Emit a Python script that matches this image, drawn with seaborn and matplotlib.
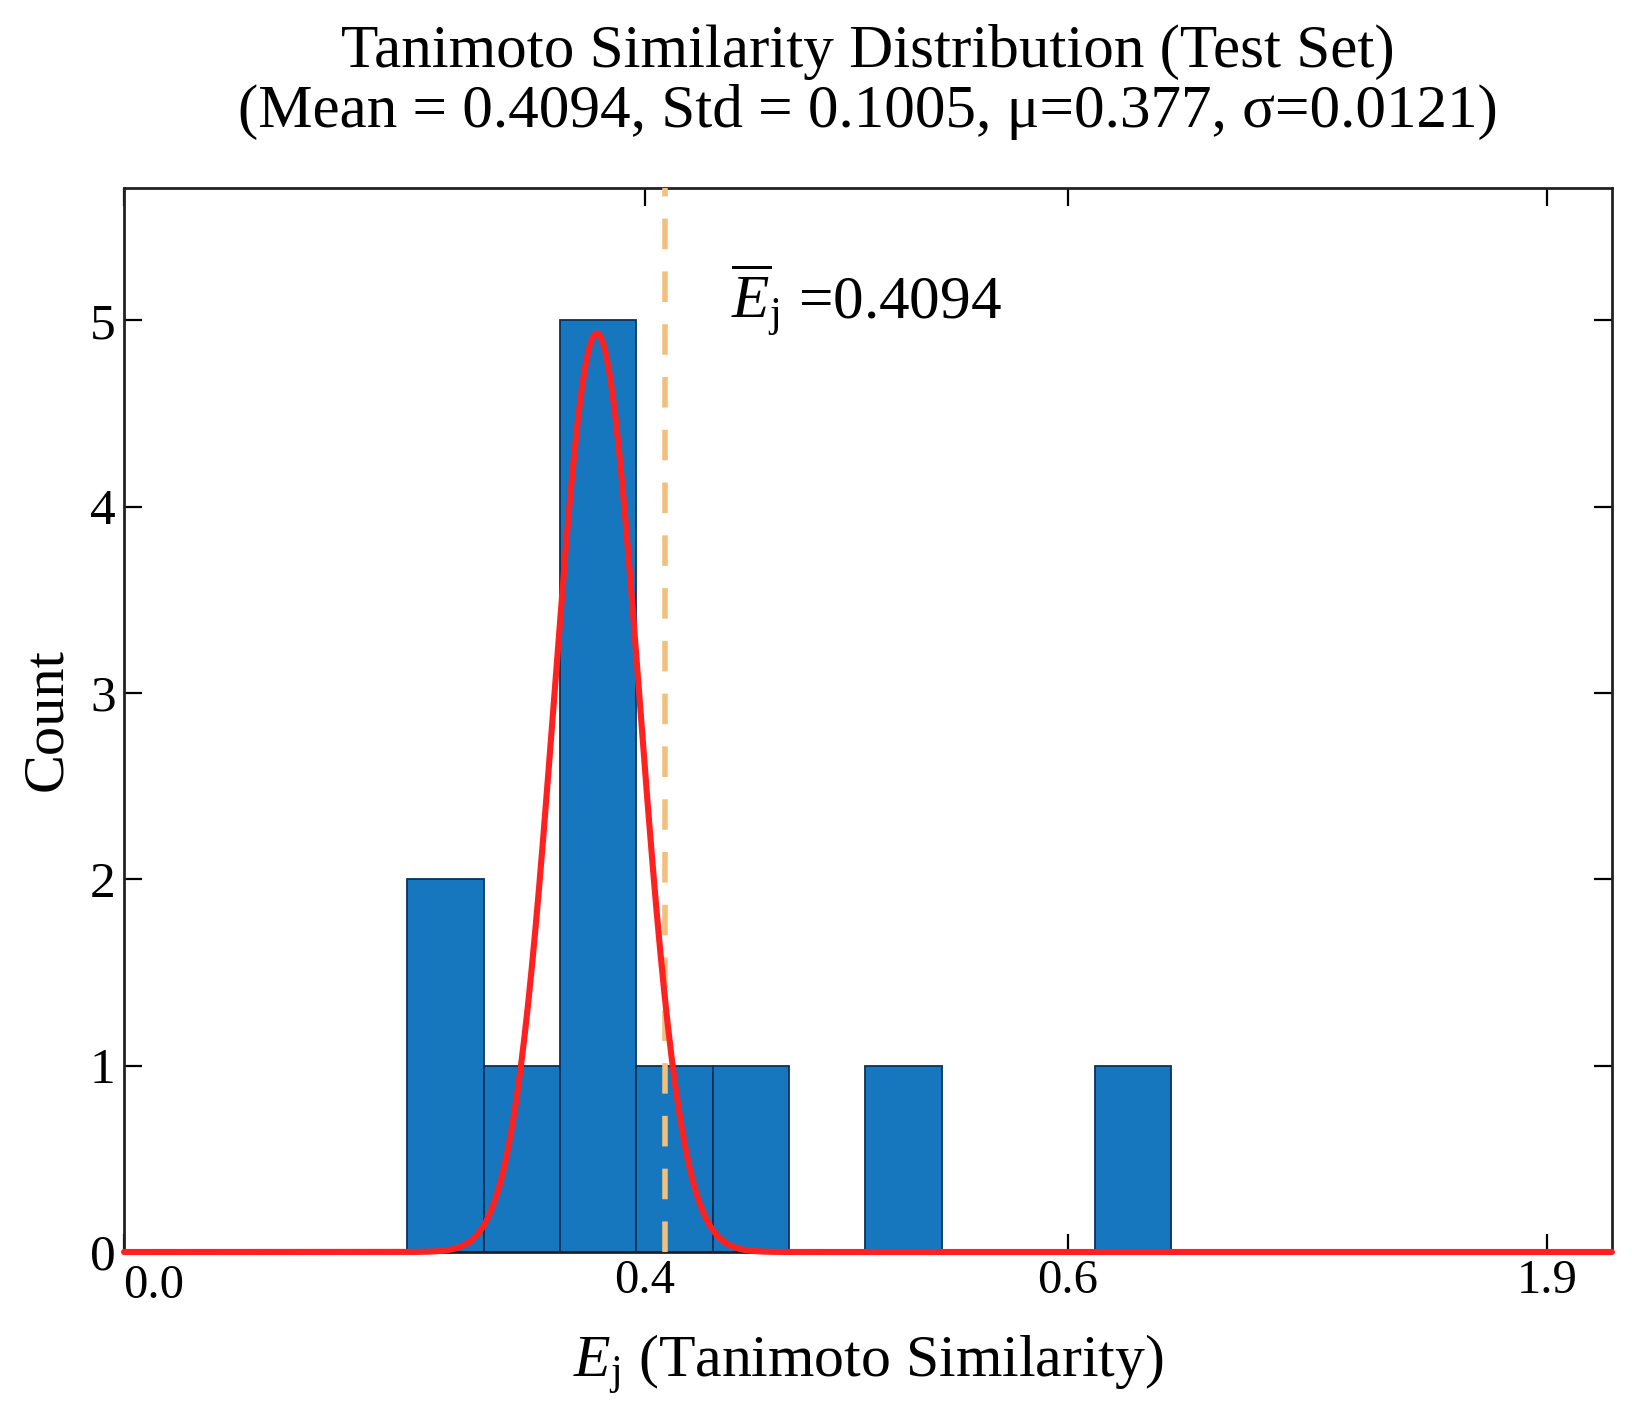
import numpy as np
import pandas as pd
import matplotlib
matplotlib.use("Agg")
import matplotlib.pyplot as plt
import matplotlib.transforms as mtransforms
import seaborn as sns

# -----------------------------
# DATA
# -----------------------------
bin_edges = [0.2173, 0.2760, 0.3346, 0.3933, 0.4519, 0.5106,
             0.5692, 0.6279, 0.6865, 0.7452, 0.8038]
bin_counts = [2, 1, 5, 1, 1, 0, 1, 0, 0, 1]

fit_mu = 0.363
fit_sigma = 0.0326
fit_peak = 4.93

mean_line_x = 0.4154
mean_label = 0.4094

x_tick_pos = [0.0, 0.4, 0.7248, 1.0925]
x_tick_labels = ["0.0", "0.4", "0.6", "1.9"]
y_ticks = [0, 1, 2, 3, 4, 5]

title_text = ("Tanimoto Similarity Distribution (Test Set)\n"
              "(Mean = 0.4094, Std = 0.1005, \u03bc=0.377, \u03c3=0.0121)")

# -----------------------------
# STYLE
# -----------------------------
sns.set_theme(style="ticks")
plt.rcParams["font.family"] = ["Liberation Serif", "DejaVu Serif"]
plt.rcParams["mathtext.fontset"] = "custom"
plt.rcParams["mathtext.rm"] = "Liberation Serif"
plt.rcParams["mathtext.it"] = "Liberation Serif:italic"
plt.rcParams["mathtext.bf"] = "Liberation Serif:bold"
plt.rcParams["text.color"] = "black"
plt.rcParams["axes.labelcolor"] = "black"
plt.rcParams["xtick.color"] = "black"
plt.rcParams["ytick.color"] = "black"

fig = plt.figure(figsize=(16.32, 14.25), dpi=100)
ax = fig.add_axes([0.076, 0.1214, 0.9117, 0.7467])

# histogram
centers = [(bin_edges[i] + bin_edges[i + 1]) / 2 for i in range(len(bin_counts))]
hist_df = pd.DataFrame({"x": centers, "w": bin_counts})
sns.histplot(data=hist_df, x="x", weights="w", bins=bin_edges,
             color="#1677bf", edgecolor="#0a3158", linewidth=1.3,
             alpha=1.0, ax=ax, zorder=2)

x_max = 1.1424
# mean line
ax.axvline(mean_line_x, color="#f3c07c", linewidth=4.0,
           linestyle=(0, (5.5, 4)), zorder=3)

# gaussian fit curve
xs = np.linspace(0, x_max, 800)
ys = fit_peak * np.exp(-0.5 * ((xs - fit_mu) / fit_sigma) ** 2)
sns.lineplot(x=xs, y=ys, color="#ff2020", linewidth=4.4, ax=ax,
             zorder=4, clip_on=False)

ax.text(0.466, 5.01, r"$\overline{E}_\mathrm{j}$ =0.4094", fontsize=44,
        ha="left", va="baseline", zorder=5)

ax.set_xlim(0, x_max)
ax.set_ylim(0, 5.71)
ax.set_xticks(x_tick_pos)
ax.set_xticklabels(x_tick_labels)
ax.set_yticks(y_ticks)

ax.tick_params(axis="both", which="major", direction="in", length=13,
               width=1.6, top=True, right=True)
ax.tick_params(axis="x", labelsize=35, pad=5)
ax.tick_params(axis="y", labelsize=37, pad=6)

# nudge the "0.0" label off the "0" label like in the reference
first = ax.get_xticklabels()[0]
first.set_transform(first.get_transform() +
                    mtransforms.ScaledTranslation(0.3, -0.05, fig.dpi_scale_trans))

for side in ["left", "right", "top", "bottom"]:
    ax.spines[side].set_visible(True)
    ax.spines[side].set_linewidth(2.0)
    ax.spines[side].set_color("#222222")

ax.set_xlabel(r"$E_\mathrm{j}$ (Tanimoto Similarity)", fontsize=43, labelpad=18)
ax.set_ylabel("Count", fontsize=42, labelpad=12)
ax.set_title(title_text, fontsize=44, pad=44, linespacing=1.1)

fig.savefig("out.png", dpi=100, facecolor="white")
